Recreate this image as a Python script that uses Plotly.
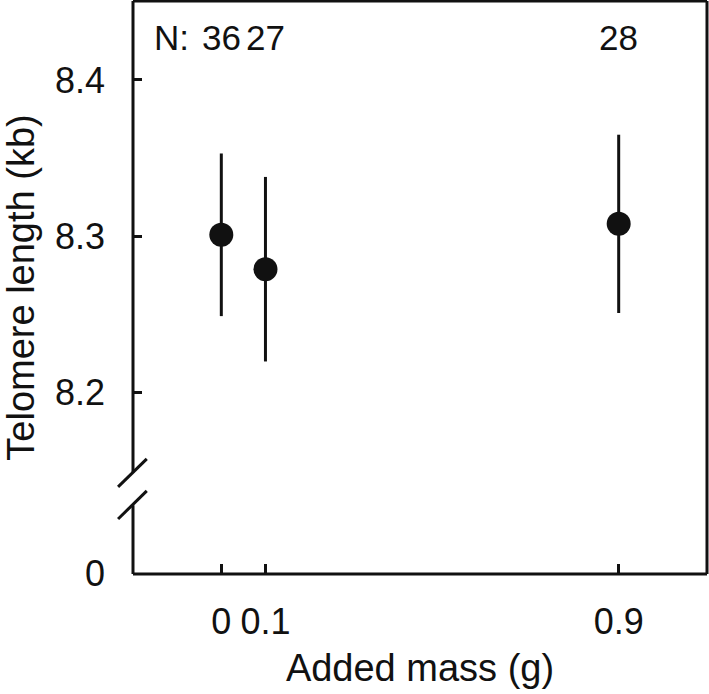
import plotly.graph_objects as go

# data
added_mass = [0, 0.1, 0.9]
telomere_kb = [8.301, 8.279, 8.308]
telomere_err = [0.052, 0.059, 0.057]
n_values = [36, 27, 28]
x_ticks = [0, 0.1, 0.9]
x_tick_labels = ["0", "0.1", "0.9"]
# the axis is broken: its floor stands for 0
Y_FLOOR = 8.0843
y_ticks = [Y_FLOOR, 8.2, 8.3, 8.4]
y_tick_labels = ["0", "8.2", "8.3", "8.4"]

FONT = "Arial, Liberation Sans, Helvetica, sans-serif"
INK = "#111111"

fig = go.Figure()
fig.add_trace(
    go.Scatter(
        x=added_mass,
        y=telomere_kb,
        mode="markers",
        marker={"size": 24, "color": INK},
        error_y={
            "type": "data",
            "array": telomere_err,
            "visible": True,
            "color": INK,
            "thickness": 3,
            "width": 0,
        },
        showlegend=False,
    )
)

# sample sizes above each group
annotations = [
    {
        "x": x, "y": 0.937, "xref": "x", "yref": "paper",
        "xanchor": "center", "yanchor": "middle",
        "text": str(n), "showarrow": False,
        "font": {"size": 35, "color": INK, "family": FONT},
    }
    for x, n in zip(added_mass, n_values)
]
annotations.append(
    {
        "x": added_mass[0], "y": 0.937, "xref": "x", "yref": "paper",
        "xanchor": "right", "yanchor": "middle", "xshift": -30,
        "text": "N:", "showarrow": False,
        "font": {"size": 35, "color": INK, "family": FONT},
    }
)

# frame with a broken left axis
line = {"color": INK, "width": 3}
shapes = [
    {"type": "line", "xref": "paper", "yref": "paper", "x0": 0, "x1": 1, "y0": 0, "y1": 0, "line": line},
    {"type": "line", "xref": "paper", "yref": "paper", "x0": 0, "x1": 1, "y0": 1, "y1": 1, "line": line},
    {"type": "line", "xref": "paper", "yref": "paper", "x0": 1, "x1": 1, "y0": 0, "y1": 1, "line": line},
    {"type": "line", "xref": "paper", "yref": "paper", "x0": 0, "x1": 0, "y0": 0.177, "y1": 1, "line": line},
    {"type": "line", "xref": "paper", "yref": "paper", "x0": 0, "x1": 0, "y0": 0, "y1": 0.120, "line": line},
    {"type": "line", "xref": "paper", "yref": "paper", "x0": -0.026, "x1": 0.024, "y0": 0.152, "y1": 0.201, "line": line},
    {"type": "line", "xref": "paper", "yref": "paper", "x0": -0.026, "x1": 0.024, "y0": 0.096, "y1": 0.145, "line": line},
]

fig.update_layout(
    width=709,
    height=694,
    margin={"l": 133, "r": 2, "t": 1, "b": 120, "autoexpand": False},
    plot_bgcolor="white",
    paper_bgcolor="white",
    font={"family": FONT, "color": INK},
    xaxis={
        "range": [-0.2, 1.1],
        "tickvals": x_ticks,
        "ticktext": x_tick_labels,
        "ticks": "inside",
        "ticklen": 10,
        "tickwidth": 2.5,
        "tickcolor": INK,
        "tickfont": {"size": 36},
        "ticklabelstandoff": 23,
        "showgrid": False,
        "zeroline": False,
        "showline": False,
        "automargin": False,
        "title": {"text": "Added mass (g)", "font": {"size": 38}, "standoff": 13},
    },
    yaxis={
        "range": [Y_FLOOR - 0.0002, 8.4505],
        "tickvals": y_ticks,
        "ticktext": y_tick_labels,
        "ticks": "inside",
        "ticklen": 9,
        "tickwidth": 2.5,
        "tickcolor": INK,
        "tickfont": {"size": 36},
        "ticklabelstandoff": 27,
        "showgrid": False,
        "zeroline": False,
        "showline": False,
        "automargin": False,
        "title": {"text": "Telomere length (kb)", "font": {"size": 38}, "standoff": 12},
    },
    shapes=shapes,
    annotations=annotations,
)

# drop the default page margin so the figure sits at the window's corner
fig.write_html(
    "out.html",
    config={"displayModeBar": False},
    post_script="document.body.style.margin='0';",
)
